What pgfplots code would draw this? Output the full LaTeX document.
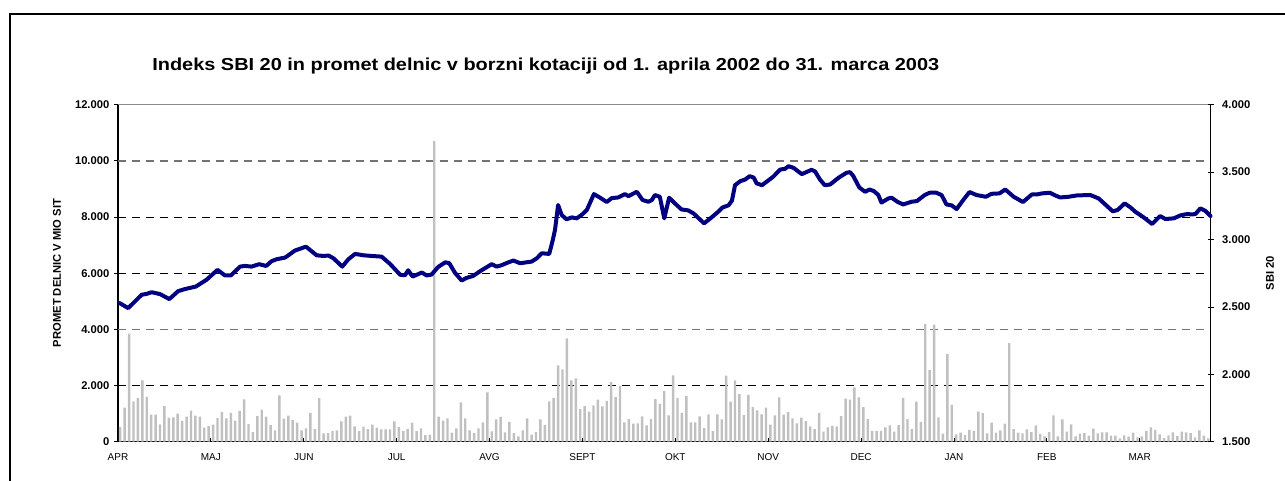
\documentclass[border=0pt]{standalone}
\usepackage{pgfplots}
\pgfplotsset{compat=1.18}
\usepackage{fontspec}
\setmainfont{Liberation Sans}
\definecolor{barc}{RGB}{192,192,192}
\definecolor{navyl}{RGB}{0,0,128}
\pgfplotstableread{
x y
0.5 520
1.5 1210
2.5 3850
3.5 1440
4.5 1560
5.5 2180
6.5 1600
7.5 965
8.5 965
9.5 620
10.5 1270
11.5 860
12.5 870
13.5 1000
14.5 740
15.5 890
16.5 1110
17.5 930
18.5 890
19.5 500
20.5 560
21.5 610
22.5 840
23.5 1060
24.5 830
25.5 1025
26.5 750
27.5 1100
28.5 1505
29.5 630
30.5 345
31.5 915
32.5 1140
33.5 890
34.5 590
35.5 400
36.5 1650
37.5 820
38.5 925
39.5 770
40.5 675
41.5 400
42.5 475
43.5 1030
44.5 450
45.5 1555
46.5 300
47.5 310
48.5 380
49.5 400
50.5 725
51.5 890
52.5 925
53.5 545
54.5 380
55.5 535
56.5 450
57.5 605
58.5 500
59.5 440
60.5 440
61.5 440
62.5 725
63.5 520
64.5 390
65.5 460
66.5 675
67.5 380
68.5 475
69.5 235
70.5 250
71.5 10700
72.5 890
73.5 750
74.5 830
75.5 320
76.5 475
77.5 1400
78.5 830
79.5 400
80.5 310
81.5 475
82.5 690
83.5 1755
84.5 370
85.5 795
86.5 880
87.5 330
88.5 710
89.5 310
90.5 190
91.5 400
92.5 830
93.5 250
94.5 345
95.5 795
96.5 590
97.5 1435
98.5 1565
99.5 2715
100.5 2575
101.5 3680
102.5 2180
103.5 2255
104.5 1160
105.5 1270
106.5 1070
107.5 1295
108.5 1495
109.5 1260
110.5 1450
111.5 2125
112.5 1590
113.5 1990
114.5 690
115.5 805
116.5 640
117.5 650
118.5 900
119.5 580
120.5 805
121.5 1520
122.5 1350
123.5 1800
124.5 935
125.5 2360
126.5 1565
127.5 1030
128.5 1635
129.5 690
130.5 690
131.5 900
132.5 485
133.5 970
134.5 380
135.5 970
136.5 795
137.5 2350
138.5 1425
139.5 2180
140.5 1695
141.5 950
142.5 1670
143.5 1235
144.5 1115
145.5 970
146.5 1210
147.5 605
148.5 935
149.5 1580
150.5 960
151.5 1055
152.5 830
153.5 650
154.5 855
155.5 735
156.5 545
157.5 450
158.5 1020
159.5 355
160.5 510
161.5 560
162.5 545
163.5 915
164.5 1535
165.5 1500
166.5 1935
167.5 1580
168.5 1235
169.5 805
170.5 390
171.5 390
172.5 390
173.5 510
174.5 580
175.5 355
176.5 590
177.5 1565
178.5 805
179.5 450
180.5 1425
181.5 710
182.5 4200
183.5 2550
184.5 4165
185.5 865
186.5 285
187.5 3130
188.5 1315
189.5 260
190.5 320
191.5 235
192.5 425
193.5 390
194.5 1070
195.5 1020
196.5 295
197.5 675
198.5 320
199.5 400
200.5 640
201.5 3510
202.5 450
203.5 320
204.5 295
205.5 440
206.5 345
207.5 580
208.5 275
209.5 190
210.5 345
211.5 935
212.5 190
213.5 795
214.5 355
215.5 615
216.5 190
217.5 285
218.5 310
219.5 215
220.5 465
221.5 295
222.5 330
223.5 330
224.5 215
225.5 215
226.5 120
227.5 225
228.5 180
229.5 320
230.5 155
231.5 190
232.5 390
233.5 510
234.5 425
235.5 260
236.5 130
237.5 225
238.5 330
239.5 200
240.5 355
241.5 330
242.5 310
243.5 155
244.5 400
245.5 215
246.5 120
}\promet
\pgfplotstableread{
x y
0.4 2528
2.3 2491
5.35 2590
6.5 2597
7.6 2609
9.5 2595
11.6 2558
13.6 2617
15.1 2632
17.6 2651
20.0 2701
22.5 2775
24.2 2733
25.5 2733
27.6 2799
28.7 2804
30.2 2799
31.9 2817
33.5 2804
34.7 2839
35.9 2854
37.8 2866
40.0 2918
42.5 2947
44.9 2883
46.4 2878
47.6 2881
48.7 2861
50.7 2799
52.1 2854
53.6 2893
55.5 2883
57.3 2878
59.6 2873
61.5 2819
63.8 2738
64.9 2735
65.6 2772
66.6 2725
68.7 2755
69.8 2733
70.9 2740
72.4 2797
74.0 2831
74.9 2824
76.2 2752
77.7 2696
78.8 2715
80.3 2730
82.2 2772
84.5 2817
85.6 2799
86.7 2809
88.2 2830
89.4 2844
90.9 2824
92.0 2829
93.5 2836
94.7 2861
95.8 2898
97.5 2893
98.3 2997
98.8 3071
99.5 3256
100.3 3182
101.4 3150
102.6 3164
103.7 3157
104.8 3182
106.0 3219
107.6 3337
109.0 3310
110.5 3278
111.6 3307
113.1 3312
114.6 3337
115.4 3322
117.3 3354
118.6 3293
119.9 3280
120.7 3293
121.4 3330
122.5 3317
123.5 3157
124.6 3310
125.9 3268
127.4 3223
128.9 3216
130.1 3194
132.5 3120
134.2 3164
135.7 3206
136.7 3238
138.0 3253
138.8 3288
139.5 3403
140.7 3433
141.8 3445
142.8 3470
143.7 3460
144.4 3416
145.6 3403
146.6 3428
148.1 3465
149.7 3519
150.8 3524
151.6 3544
152.7 3532
154.6 3485
156.8 3517
157.6 3505
158.7 3445
159.8 3403
161.0 3408
162.9 3458
164.7 3495
165.5 3500
166.2 3473
167.6 3386
168.9 3354
169.9 3371
170.9 3359
171.9 3330
172.6 3274
174.2 3305
174.9 3310
176.2 3280
177.5 3260
179.4 3280
180.6 3285
182.4 3330
183.5 3347
185.0 3347
186.2 3330
187.3 3260
188.5 3253
189.6 3226
191.1 3293
192.5 3352
194.1 3330
196.2 3317
197.5 3339
199.3 3342
200.6 3371
202.5 3317
204.6 3278
206.6 3334
207.7 3334
208.9 3342
210.7 3347
211.9 3327
213.0 3312
214.9 3317
216.8 3327
219.8 3330
221.7 3305
223.6 3248
224.9 3209
226.0 3219
227.6 3268
228.9 3238
230.0 3206
231.9 3164
233.8 3115
235.6 3174
236.8 3152
238.7 3157
240.2 3179
241.7 3189
242.8 3186
243.6 3189
244.7 3231
245.9 3211
247.0 3174
}\sbi
\begin{document}
\begin{tikzpicture}
\useasboundingbox (0,0) rectangle (963.75pt,360pt);
\draw[black, line width=0.8pt] (7.5pt,-10pt) -- (7.5pt,349.5pt) -- (980pt,349.5pt);
\node[anchor=base west, font=\fontsize{13}{15}\selectfont\bfseries, inner sep=0pt, xscale=1.15] at (114pt,307pt) {Indeks SBI 20 in promet delnic v borzni kotaciji od 1. aprila 2002 do 31. marca 2003};
\node[rotate=90, font=\fontsize{8.4}{10}\selectfont\bfseries, inner sep=0pt] at (42.75pt,155.25pt) {PROMET DELNIC V MIO SIT};
\node[rotate=90, font=\fontsize{8.4}{10}\selectfont\bfseries, inner sep=0pt] at (952.5pt,155.25pt) {SBI 20};
\begin{axis}[
  at={(88.5pt,28.725pt)}, anchor=south west,
  scale only axis, width=819.375pt, height=252.75pt,
  xmin=0, xmax=247, ymin=0, ymax=12000,
  axis x line*=bottom, axis y line*=left,
  axis line style={black, line width=0.8pt, -},
  scaled y ticks=false,
  xtick={0,21,...,231},
  xticklabels={APR,MAJ,JUN,JUL,AVG,SEPT,OKT,NOV,DEC,JAN,FEB,MAR},
  ytick={0,2000,...,12000},
  yticklabels={0,2.000,4.000,6.000,8.000,10.000,12.000},
  xtick align=inside, ytick align=outside,
  major tick length=3pt,
  tick style={black, line width=0.6pt},
  y tick label style={font=\fontsize{8.4}{10}\selectfont\bfseries},
  x tick label style={font=\fontsize{7.5}{9}\selectfont, yshift=-5.25pt},
  clip=false,
]
\draw[black, line width=0.6pt, dash pattern=on 6pt off 4.5pt] (axis cs:0,2000) -- (axis cs:247,2000);
\draw[black, line width=0.6pt, dash pattern=on 6pt off 4.5pt] (axis cs:0,6000) -- (axis cs:247,6000);
\draw[black, line width=0.6pt, dash pattern=on 6pt off 4.5pt] (axis cs:0,8000) -- (axis cs:247,8000);
\draw[black!55, line width=1.1pt, dash pattern=on 6pt off 4.5pt] (axis cs:0,4000) -- (axis cs:247,4000);
\draw[black!55, line width=1.1pt, dash pattern=on 6pt off 4.5pt] (axis cs:0,10000) -- (axis cs:247,10000);
\draw[black!45, line width=0.6pt] (axis cs:0,12000) -- (axis cs:247,12000);
\addplot[ybar, bar width=0.55, fill=barc, draw=none] table[x=x,y=y] {\promet};
\end{axis}
\begin{axis}[
  at={(88.5pt,28.725pt)}, anchor=south west,
  scale only axis, width=819.375pt, height=252.75pt,
  xmin=0, xmax=247, ymin=1500, ymax=4000,
  axis x line=none, axis y line*=right,
  axis line style={black, line width=0.8pt, -},
  scaled y ticks=false,
  ytick={1500,2000,...,4000},
  yticklabels={1.500,2.000,2.500,3.000,3.500,4.000},
  ytick align=center, major tick length=4.5pt,
  tick style={black, line width=0.6pt},
  y tick label style={font=\fontsize{8.4}{10}\selectfont\bfseries, xshift=3pt},
  clip=false,
]
\addplot[navyl, line width=3pt, line join=round, line cap=round] table[x=x,y=y] {\sbi};
\end{axis}
\end{tikzpicture}
\end{document}
